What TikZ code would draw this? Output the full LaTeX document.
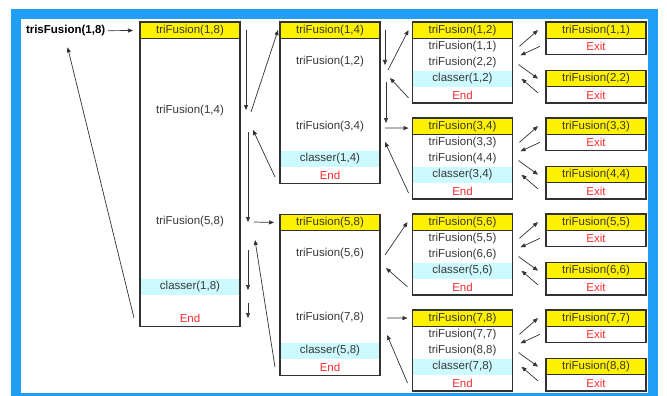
\documentclass[tikz,border=0pt]{standalone}
\usepackage{fontspec}
\setmainfont{Liberation Sans}
\usetikzlibrary{positioning,arrows.meta}
\definecolor{framblue}{RGB}{33,158,245}
\definecolor{bandcyan}{RGB}{204,250,255}
\definecolor{txtgray}{RGB}{55,55,55}
\definecolor{endred}{RGB}{245,45,45}
\definecolor{linegray}{RGB}{50,50,50}

\begin{document}
\begin{tikzpicture}[x=1pt, y=-1pt,
  every node/.style = {inner sep=0pt, outer sep=0pt, text=txtgray,
    font=\fontsize{11.5pt}{13pt}\selectfont},
  row/.style = {minimum width=100pt, minimum height=16.2pt},
  head/.style = {row, fill=yellow, draw=linegray, line width=1.1pt},
  band/.style = {row, fill=bandcyan},
  endrow/.style = {row, text=endred},
  frame/.style = {draw=linegray, line width=1.1pt},
  arr/.style = {-{Triangle[length=5pt,width=4pt]}, line width=0.7pt, draw=linegray}
  ]
  \useasboundingbox (0,0) rectangle (667,396);
  % blue border
  \fill[framblue] (11,9) rectangle (658,396);
  \fill[white] (21,19) rectangle (648,393);

  \node[font=\fontsize{11.5pt}{13pt}\selectfont\bfseries, text=black,
    inner sep=1pt, anchor=west] (main) at (25,31) {trisFusion(1,8)};

  % triFusion(1,8)
  \node[head] (h18) at (190,30.1) {triFusion(1,8)};
  \node[row] (r14) at (190,111) {triFusion(1,4)};
  \node[row] (r58) at (190,222) {triFusion(5,8)};
  \node[band] (c18) at (190,287) {classer(1,8)};
  \node[endrow] (e18) at (190,318) {End};
  \draw[frame] (h18.north west) rectangle (e18.south east);

  % triFusion(1,4) and triFusion(5,8)
  \node[head] (h14) at (330,30.1) {triFusion(1,4)};
  \node[row] (r12) at (330,62) {triFusion(1,2)};
  \node[row] (r34) at (330,127) {triFusion(3,4)};
  \node[band] (c14) at (330,159) {classer(1,4)};
  \node[endrow] (e14) at (330,175) {End};
  \draw[frame] (h14.north west) rectangle (e14.south east);

  \node[head] (h58) at (330,222.5) {triFusion(5,8)};
  \node[row] (r56) at (330,254) {triFusion(5,6)};
  \node[row] (r78) at (330,318) {triFusion(7,8)};
  \node[band] (c58) at (330,351) {classer(5,8)};
  \node[endrow] (e58) at (330,367) {End};
  \draw[frame] (h58.north west) rectangle (e58.south east);

  % pairs
  \node[head] (h12) at (462.5,30.1) {triFusion(1,2)};
  \node[row, below=0pt of h12] (r11) {triFusion(1,1)};
  \node[row, below=0pt of r11] (r22) {triFusion(2,2)};
  \node[band, below=0pt of r22] (c12) {classer(1,2)};
  \node[endrow, below=0pt of c12] (e12) {End};
  \draw[frame] (h12.north west) rectangle (e12.south east);

  \node[head, below=15pt of e12] (h34) {triFusion(3,4)};
  \node[row, below=0pt of h34] (r33) {triFusion(3,3)};
  \node[row, below=0pt of r33] (r44) {triFusion(4,4)};
  \node[band, below=0pt of r44] (c34) {classer(3,4)};
  \node[endrow, below=0pt of c34] (e34) {End};
  \draw[frame] (h34.north west) rectangle (e34.south east);

  \node[head, below=15pt of e34] (h56) {triFusion(5,6)};
  \node[row, below=0pt of h56] (r55) {triFusion(5,5)};
  \node[row, below=0pt of r55] (r66) {triFusion(6,6)};
  \node[band, below=0pt of r66] (c56) {classer(5,6)};
  \node[endrow, below=0pt of c56] (e56) {End};
  \draw[frame] (h56.north west) rectangle (e56.south east);

  \node[head, below=15pt of e56] (h78) {triFusion(7,8)};
  \node[row, below=0pt of h78] (r77) {triFusion(7,7)};
  \node[row, below=0pt of r77] (r88) {triFusion(8,8)};
  \node[band, below=0pt of r88] (c78) {classer(7,8)};
  \node[endrow, below=0pt of c78] (e78) {End};
  \draw[frame] (h78.north west) rectangle (e78.south east);

  % single elements
  \node[head] (h11) at (596,30.1) {triFusion(1,1)};
  \node[endrow, below=0pt of h11] (x11) {Exit};
  \node[head, below=16.2pt of x11] (h22) {triFusion(2,2)};
  \node[endrow, below=0pt of h22] (x22) {Exit};
  \node[head, below=15pt of x22] (h33) {triFusion(3,3)};
  \node[endrow, below=0pt of h33] (x33) {Exit};
  \node[head, below=16.2pt of x33] (h44) {triFusion(4,4)};
  \node[endrow, below=0pt of h44] (x44) {Exit};
  \node[head, below=15pt of x44] (h55) {triFusion(5,5)};
  \node[endrow, below=0pt of h55] (x55) {Exit};
  \node[head, below=16.2pt of x55] (h66) {triFusion(6,6)};
  \node[endrow, below=0pt of h66] (x66) {Exit};
  \node[head, below=15pt of x66] (h77) {triFusion(7,7)};
  \node[endrow, below=0pt of h77] (x77) {Exit};
  \node[head, below=16.2pt of x77] (h88) {triFusion(8,8)};
  \node[endrow, below=0pt of h88] (x88) {Exit};
  \draw[frame] (h11.north west) rectangle (x11.south east);
  \draw[frame] (h22.north west) rectangle (x22.south east);
  \draw[frame] (h33.north west) rectangle (x33.south east);
  \draw[frame] (h44.north west) rectangle (x44.south east);
  \draw[frame] (h55.north west) rectangle (x55.south east);
  \draw[frame] (h66.north west) rectangle (x66.south east);
  \draw[frame] (h77.north west) rectangle (x77.south east);
  \draw[frame] (h88.north west) rectangle (x88.south east);

  % calls and returns
  \draw[arr, shorten <=2pt, shorten >=7pt] (main) -- (h18);
  \draw[arr] ([xshift=-6pt]e18.west) -- ([xshift=2pt,yshift=-10pt]main.south);

  \draw[arr] ([xshift=6pt]h18.east) -- ([xshift=6pt,yshift=1pt]r14.east);
  \draw[arr] ([xshift=11pt,yshift=-1pt]r14.east) -- ([xshift=-2pt]h14.west);
  \draw[arr] ([xshift=-5pt,yshift=-2pt]e14.west) -- ([xshift=13pt,yshift=-19pt]r14.east);
  \draw[arr] ([xshift=8pt,yshift=-21pt]r14.east) -- ([xshift=8pt]r58.east);
  \draw[arr] ([xshift=14pt]r58.east) -- ([xshift=-6pt]h58.west);
  \draw[arr] ([xshift=-5pt]e58.west) -- ([xshift=15pt,yshift=-18pt]r58.east);
  \draw[arr] ([xshift=8pt,yshift=-28pt]r58.east) -- ([xshift=8pt,yshift=-3pt]c18.east);
  \draw[arr] ([xshift=8pt,yshift=-16pt]c18.east) -- ([xshift=8pt]e18.east);

  \draw[arr] ([xshift=5pt]h14.east) -- ([xshift=5pt,yshift=-3pt]r12.east);
  \draw[arr] ([xshift=8pt,yshift=-8pt]r12.east) -- ([xshift=-4pt]h12.west);
  \draw[arr] ([xshift=-4pt,yshift=-3pt]e12.west) -- ([xshift=10pt,yshift=-16pt]r12.east);
  \draw[arr] ([xshift=6pt,yshift=-20pt]r12.east) -- ([xshift=6pt,yshift=4pt]r34.east);
  \draw[arr] ([xshift=5pt,yshift=-1pt]r34.east) -- ([xshift=-4pt,yshift=-2pt]h34.west);
  \draw[arr] ([xshift=-4pt,yshift=-2pt]e34.west) -- ([xshift=5pt,yshift=-15pt]r34.east);

  \draw[arr] ([xshift=5pt,yshift=-1pt]r56.east) -- ([xshift=-5pt]h56.west);
  \draw[arr] ([xshift=-5pt]e56.west) -- ([xshift=6pt,yshift=-14pt]r56.east);
  \draw[arr] ([xshift=7pt]r78.east) -- ([xshift=-5pt]h78.west);
  \draw[arr] ([xshift=-5pt]e78.west) -- ([xshift=7pt,yshift=-17pt]r78.east);

  \draw[arr] ([xshift=7pt]r11.east) -- ([xshift=-8pt]h11.west);
  \draw[arr] ([xshift=-6pt]x11.west) -- ([xshift=8pt,yshift=-9pt]r11.east);
  \draw[arr] ([xshift=6pt,yshift=-2pt]r22.east) -- ([xshift=-8pt]h22.west);
  \draw[arr] ([xshift=-8pt,yshift=2pt]x22.west) -- ([xshift=9pt]c12.east);

  \draw[arr] ([xshift=7pt]r33.east) -- ([xshift=-8pt]h33.west);
  \draw[arr] ([xshift=-6pt]x33.west) -- ([xshift=8pt,yshift=-9pt]r33.east);
  \draw[arr] ([xshift=6pt,yshift=-2pt]r44.east) -- ([xshift=-8pt]h44.west);
  \draw[arr] ([xshift=-8pt,yshift=2pt]x44.west) -- ([xshift=9pt]c34.east);

  \draw[arr] ([xshift=7pt]r55.east) -- ([xshift=-8pt]h55.west);
  \draw[arr] ([xshift=-6pt]x55.west) -- ([xshift=8pt,yshift=-9pt]r55.east);
  \draw[arr] ([xshift=6pt,yshift=-2pt]r66.east) -- ([xshift=-8pt]h66.west);
  \draw[arr] ([xshift=-8pt,yshift=2pt]x66.west) -- ([xshift=9pt]c56.east);

  \draw[arr] ([xshift=7pt]r77.east) -- ([xshift=-8pt]h77.west);
  \draw[arr] ([xshift=-6pt]x77.west) -- ([xshift=8pt,yshift=-9pt]r77.east);
  \draw[arr] ([xshift=6pt,yshift=-2pt]r88.east) -- ([xshift=-8pt]h88.west);
  \draw[arr] ([xshift=-8pt,yshift=2pt]x88.west) -- ([xshift=9pt]c78.east);
\end{tikzpicture}
\end{document}
